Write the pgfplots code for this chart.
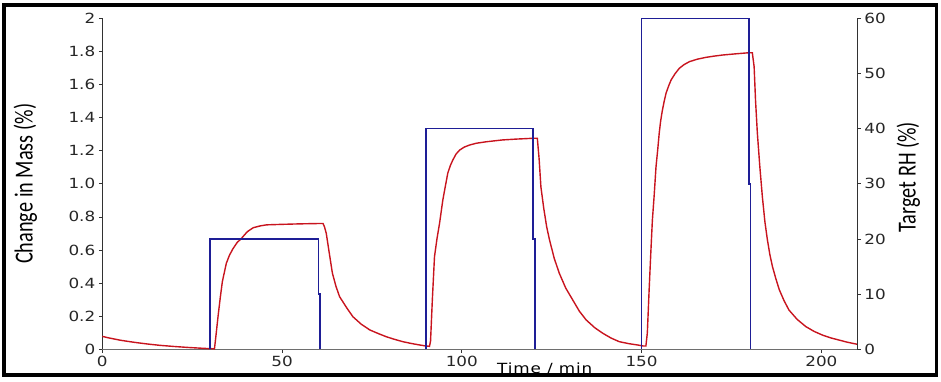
\documentclass[border=0pt]{standalone}
\usepackage{pgfplots}
\pgfplotsset{compat=1.18}
\usepackage{fontspec}
\setmainfont{DejaVu Sans}
\newfontfamily\tickfont[FakeStretch=1.2]{DejaVu Sans}
\newfontfamily\labfont[FakeStretch=0.78]{Carlito}
\newfontfamily\timefont[FakeStretch=1.2,LetterSpace=6]{DejaVu Sans}
\definecolor{rcol}{RGB}{200,20,30}
\definecolor{bcol}{RGB}{30,30,150}
\definecolor{axc}{RGB}{50,50,50}
\definecolor{axb}{RGB}{110,110,110}
\begin{document}
\begin{tikzpicture}
\path (-102.3pt,-31.7pt) rectangle (838.7pt,349.3pt);
\draw[line width=3.2pt] (-98.3pt,-25.7pt) rectangle (834.5pt,344.3pt);
\begin{axis}[
  at={(0pt,0pt)}, anchor=south west,
  width=755pt, height=331pt, scale only axis,
  xmin=0, xmax=210, ymin=0, ymax=2,
  axis x line*=bottom, axis y line*=left,
  x axis line style={axb, line width=1pt},
  y axis line style={axc, line width=1pt},
  tick style={axc, line width=0.8pt},
  tick align=outside, major tick length=3.5pt,
  xtick={0,50,100,150,200}, xticklabels={0,50,100,150,200},
  ytick={0,0.2,0.4,0.6,0.8,1.0,1.2,1.4,1.6,1.8,2},
  yticklabels={0,0.2,0.4,0.6,0.8,1.0,1.2,1.4,1.6,1.8,2},
  /pgf/number format/assume math mode=true,
  ticklabel style={font=\tickfont\fontsize{14}{14}\selectfont, text=black!85},
  xlabel={\timefont\fontsize{14}{14}\selectfont Time / min},
  xlabel style={at={(axis description cs:0.586,0)}, anchor=base, yshift=-23.7pt, inner sep=0pt},
  ylabel={\labfont\fontsize{26}{26}\selectfont Change in Mass (\%)},
  ylabel style={at={(axis description cs:-0.102,0.5)}, anchor=center, inner sep=0pt},
  clip=false,
]
\addplot[rcol, line width=1.4pt] coordinates {
(0,0.078) (2,0.068) (5,0.055) (8,0.045) (10,0.039) (13,0.031) (16,0.024) (20,0.017) (24,0.011) (28,0.006) (30,0.004) (31.2,0.003)
(31.6,0.08) (32.2,0.2) (32.8,0.31) (33.4,0.41) (34.5,0.52) (35.4,0.57) (36.3,0.606) (37.5,0.645) (38.7,0.67) (40.3,0.71) (42,0.735) (44,0.746) (45.7,0.752) (50,0.755) (55,0.758) (60,0.76) (61.4,0.76)
(61.8,0.74) (62.3,0.70) (63,0.60) (64,0.46) (65,0.38) (66,0.318) (68,0.25) (69.7,0.197) (72,0.152) (74.4,0.117) (77,0.093) (79,0.076) (81,0.062) (83.6,0.046) (86,0.035) (88.3,0.026) (90,0.02) (91,0.018)
(91.3,0.05) (91.8,0.3) (92.4,0.56) (93.1,0.67) (93.8,0.76) (94.7,0.90) (95.2,0.96) (96.1,1.065) (96.8,1.11) (97.5,1.144) (98.4,1.18) (99.4,1.204) (100.7,1.222) (102.1,1.234) (104,1.245) (106.8,1.254) (111.3,1.265) (115,1.27) (119.7,1.275) (121,1.275)
(121.5,1.15) (122,0.98) (122.8,0.85) (123.6,0.74) (124.4,0.66) (125.7,0.55) (127.1,0.46) (128.9,0.37) (130.8,0.30) (132.7,0.23) (134.6,0.177) (137,0.13) (139.2,0.097) (141.5,0.068) (143.8,0.046) (146.5,0.034) (148.9,0.026) (150.5,0.02) (151.2,0.02)
(151.6,0.1) (152.1,0.36) (152.6,0.6) (153,0.78) (153.5,0.93) (154,1.10) (154.5,1.21) (154.9,1.305) (155.3,1.38) (155.8,1.446) (156.3,1.5) (156.8,1.547) (157.5,1.59) (158.2,1.627) (159.3,1.665) (160.5,1.698) (161.8,1.72) (163.3,1.738) (165.5,1.753) (167.9,1.764) (170,1.771) (172.5,1.778) (176,1.785) (179.9,1.792) (180.8,1.792)
(181.3,1.708) (181.7,1.5) (182.2,1.306) (182.9,1.1) (183.6,0.92) (184.3,0.77) (185,0.66) (185.7,0.57) (186.4,0.50) (187.3,0.43) (188.3,0.36) (189.6,0.295) (191,0.237) (193.3,0.18) (195.7,0.137) (198,0.108) (200.3,0.086) (202.6,0.069) (204.9,0.056) (207.2,0.043) (209.6,0.032) (210,0.031)
};
\end{axis}
\begin{axis}[
  at={(0pt,0pt)}, anchor=south west,
  width=755pt, height=331pt, scale only axis,
  xmin=0, xmax=210, ymin=0, ymax=60,
  axis x line=none, axis y line*=right,
  y axis line style={axc, line width=1pt},
  tick style={axc, line width=0.8pt},
  tick align=outside, major tick length=3.5pt,
  ytick={0,10,20,30,40,50,60}, yticklabels={0,10,20,30,40,50,60},
  /pgf/number format/assume math mode=true,
  ticklabel style={font=\tickfont\fontsize{14}{14}\selectfont, text=black!85},
  ylabel={\labfont\fontsize{26}{26}\selectfont Target RH (\%)},
  ylabel style={at={(axis description cs:1.0675,0.52)}, anchor=center, rotate=0, inner sep=0pt},
  clip=false,
]
\addplot[bcol, line width=1.5pt] coordinates {(30,0) (30,20) (60.2,20) (60.2,10) (60.5,10) (60.5,0)};
\addplot[bcol, line width=1.5pt] coordinates {(90,0) (90,40) (119.8,40) (119.8,20) (120.3,20) (120.3,0)};
\addplot[bcol, line width=1.5pt] coordinates {(150,0) (150,60) (179.9,60) (179.9,30) (180.3,30) (180.3,0)};
\end{axis}
\end{tikzpicture}
\end{document}
